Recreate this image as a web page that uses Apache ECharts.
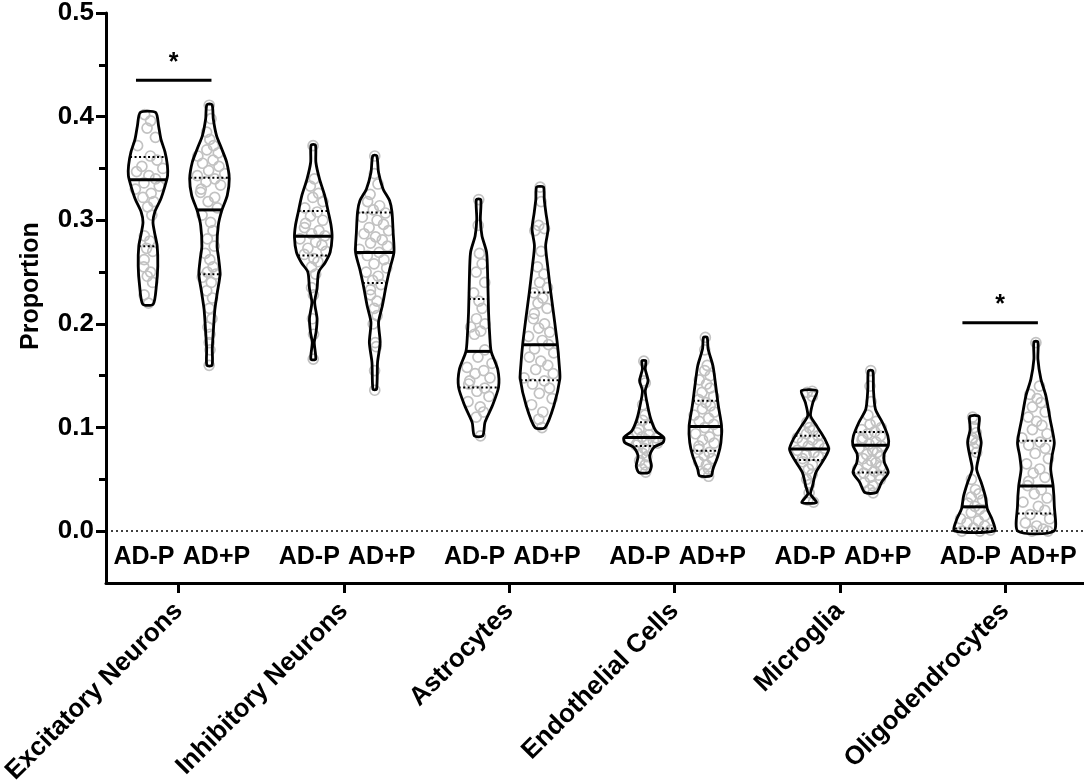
<!DOCTYPE html>
<html>
<head>
<meta charset="utf-8">
<script src="https://cdn.jsdelivr.net/npm/echarts@6/dist/echarts.min.js"></script>
<style>
  html, body { margin: 0; padding: 0; background: #fff; }
  #chart { width: 1084px; height: 783px; }
</style>
</head>
<body>
<div id="chart"></div>
<script>
const cellTypes = ['Excitatory Neurons', 'Inhibitory Neurons', 'Astrocytes', 'Endothelial Cells', 'Microglia', 'Oligodendrocytes']
const conditions = ['AD-P', 'AD+P']
const yTicks = [0, 0.1, 0.2, 0.3, 0.4, 0.5]
const yMinorTicks = [0.05, 0.15, 0.25, 0.35, 0.45]

// violin outlines, top to bottom: [proportion, relative density]
const excAdmShape = [[0.404, 0.38], [0.391, 0.53], [0.378, 0.65], [0.366, 0.85], [0.353, 0.97], [0.343, 0.98], [0.333, 0.85], [0.320, 0.63], [0.308, 0.34], [0.298, 0.25], [0.288, 0.33], [0.275, 0.46], [0.256, 0.49], [0.237, 0.42], [0.219, 0.26]]
const excAdpShape = [[0.4115, 0.13], [0.398, 0.19], [0.382, 0.35], [0.369, 0.61], [0.356, 0.86], [0.340, 0.99], [0.324, 0.89], [0.309, 0.61], [0.295, 0.44], [0.275, 0.38], [0.263, 0.46], [0.248, 0.53], [0.230, 0.39], [0.214, 0.27], [0.192, 0.19], [0.176, 0.14], [0.160, 0.13]]
const inhAdmShape = [[0.3726, 0.11], [0.356, 0.13], [0.340, 0.31], [0.324, 0.57], [0.308, 0.75], [0.295, 0.89], [0.2835, 0.94], [0.269, 0.84], [0.259, 0.59], [0.250, 0.27], [0.234, 0.19], [0.221, 0.07], [0.205, 0.19], [0.192, 0.14], [0.182, 0.05], [0.166, 0.12]]
const inhAdpShape = [[0.3623, 0.10], [0.346, 0.19], [0.330, 0.42], [0.319, 0.74], [0.308, 0.86], [0.288, 0.92], [0.269, 0.96], [0.253, 0.75], [0.237, 0.57], [0.2175, 0.38], [0.2014, 0.19], [0.182, 0.27], [0.163, 0.14], [0.137, 0.09]]
const astAdmShape = [[0.320, 0.11], [0.301, 0.09], [0.285, 0.17], [0.269, 0.40], [0.243, 0.46], [0.211, 0.50], [0.1885, 0.56], [0.1735, 0.63], [0.156, 0.96], [0.139, 1.0], [0.121, 0.69], [0.105, 0.32], [0.092, 0.21]]
const astAdpShape = [[0.332, 0.17], [0.3205, 0.21], [0.3076, 0.29], [0.2915, 0.40], [0.2754, 0.28], [0.256, 0.38], [0.230, 0.54], [0.205, 0.71], [0.180, 0.87], [0.160, 0.96], [0.147, 0.99], [0.121, 0.69], [0.100, 0.25]]
const endAdmShape = [[0.1644, 0.10], [0.1564, 0.07], [0.1451, 0.21], [0.1354, 0.07], [0.121, 0.19], [0.108, 0.35], [0.0968, 0.60], [0.0904, 1.0], [0.0856, 0.96], [0.0808, 0.50], [0.0727, 0.29], [0.063, 0.38], [0.0567, 0.25]]
const endAdpShape = [[0.187, 0.09], [0.1757, 0.14], [0.1596, 0.38], [0.1403, 0.52], [0.121, 0.65], [0.1016, 0.81], [0.0856, 0.78], [0.0727, 0.63], [0.0598, 0.38], [0.0534, 0.29]]
const micAdmShape = [[0.1354, 0.39], [0.1242, 0.19], [0.1113, 0.07], [0.1016, 0.38], [0.0888, 0.79], [0.0792, 0.98], [0.0695, 0.75], [0.0567, 0.34], [0.0437, 0.17], [0.0357, 0.07], [0.0277, 0.37]]
const micAdpShape = [[0.1547, 0.11], [0.1371, 0.14], [0.1178, 0.24], [0.1049, 0.59], [0.092, 0.86], [0.083, 0.89], [0.0743, 0.67], [0.0663, 0.69], [0.0567, 0.88], [0.047, 0.54], [0.0373, 0.29]]
const oliAdmShape = [[0.1107, 0.23], [0.0985, 0.21], [0.0856, 0.34], [0.0727, 0.23], [0.0598, 0.11], [0.047, 0.34], [0.0341, 0.54], [0.0212, 0.65], [0.0116, 0.88], [0.0003, 1.0]]
const oliAdpShape = [[0.1827, 0.10], [0.166, 0.10], [0.1467, 0.25], [0.1306, 0.50], [0.1081, 0.71], [0.0856, 0.92], [0.0727, 0.81], [0.0598, 0.74], [0.0437, 0.86], [0.0244, 0.92], [0.0, 0.90]]

// [median, upper quartile, lower quartile]
const excAdmStats = [0.339, 0.361, 0.275]
const excAdpStats = [0.310, 0.341, 0.248]
const inhAdmStats = [0.2845, 0.309, 0.266]
const inhAdpStats = [0.269, 0.3076, 0.2394]
const astAdmStats = [0.1735, 0.224, 0.1387]
const astAdpStats = [0.180, 0.2304, 0.1457]
const endAdmStats = [0.0904, 0.105, 0.0823]
const endAdpStats = [0.101, 0.1258, 0.0775]
const micAdmStats = [0.0792, 0.092, 0.0688]
const micAdpStats = [0.083, 0.0958, 0.0567]
const oliAdmStats = [0.0235, 0.0753, 0.0026]
const oliAdpStats = [0.0437, 0.0872, 0.0171]

// per-sample proportions
const excAdmPoints = [0.402, 0.396, 0.389, 0.380, 0.372, 0.362, 0.358, 0.352, 0.350, 0.347, 0.343, 0.340, 0.336, 0.333, 0.330, 0.326, 0.322, 0.318, 0.313, 0.305, 0.285, 0.280, 0.273, 0.270, 0.262, 0.255, 0.250, 0.246, 0.240, 0.228, 0.220]
const excAdpPoints = [0.411, 0.398, 0.385, 0.378, 0.372, 0.368, 0.365, 0.362, 0.358, 0.355, 0.352, 0.348, 0.345, 0.343, 0.340, 0.337, 0.334, 0.330, 0.327, 0.322, 0.318, 0.312, 0.305, 0.298, 0.290, 0.282, 0.275, 0.268, 0.262, 0.255, 0.250, 0.248, 0.245, 0.240, 0.232, 0.225, 0.215, 0.205, 0.197, 0.190, 0.182, 0.175, 0.160]
const inhAdmPoints = [0.372, 0.340, 0.333, 0.326, 0.322, 0.318, 0.312, 0.308, 0.304, 0.300, 0.297, 0.293, 0.290, 0.287, 0.285, 0.282, 0.279, 0.276, 0.273, 0.270, 0.267, 0.263, 0.260, 0.255, 0.248, 0.235, 0.228, 0.205, 0.190, 0.166]
const inhAdpPoints = [0.362, 0.345, 0.335, 0.325, 0.318, 0.314, 0.310, 0.307, 0.303, 0.300, 0.296, 0.293, 0.290, 0.287, 0.284, 0.281, 0.278, 0.275, 0.272, 0.269, 0.266, 0.262, 0.258, 0.254, 0.250, 0.246, 0.242, 0.238, 0.233, 0.228, 0.222, 0.215, 0.208, 0.200, 0.182, 0.178, 0.155, 0.136]
const astAdmPoints = [0.320, 0.295, 0.268, 0.258, 0.250, 0.240, 0.230, 0.222, 0.215, 0.205, 0.200, 0.197, 0.193, 0.190, 0.175, 0.168, 0.162, 0.158, 0.155, 0.152, 0.148, 0.145, 0.142, 0.138, 0.135, 0.130, 0.125, 0.120, 0.115, 0.110, 0.092]
const astAdpPoints = [0.332, 0.318, 0.295, 0.292, 0.290, 0.270, 0.255, 0.248, 0.240, 0.235, 0.230, 0.225, 0.220, 0.215, 0.210, 0.205, 0.200, 0.196, 0.192, 0.188, 0.184, 0.180, 0.176, 0.172, 0.168, 0.164, 0.160, 0.156, 0.152, 0.148, 0.145, 0.142, 0.138, 0.133, 0.128, 0.122, 0.115, 0.108, 0.100]
const endAdmPoints = [0.164, 0.145, 0.143, 0.122, 0.112, 0.107, 0.102, 0.098, 0.095, 0.093, 0.091, 0.090, 0.089, 0.088, 0.087, 0.086, 0.085, 0.083, 0.080, 0.078, 0.075, 0.072, 0.068, 0.064, 0.060, 0.057]
const endAdpPoints = [0.187, 0.175, 0.160, 0.155, 0.150, 0.146, 0.142, 0.138, 0.134, 0.130, 0.127, 0.124, 0.121, 0.118, 0.115, 0.112, 0.109, 0.106, 0.103, 0.100, 0.097, 0.094, 0.091, 0.088, 0.085, 0.082, 0.079, 0.076, 0.073, 0.070, 0.067, 0.064, 0.060, 0.056, 0.053]
const micAdmPoints = [0.135, 0.134, 0.130, 0.105, 0.100, 0.097, 0.094, 0.092, 0.090, 0.088, 0.086, 0.084, 0.082, 0.080, 0.078, 0.076, 0.074, 0.072, 0.070, 0.067, 0.064, 0.060, 0.055, 0.050, 0.045, 0.037, 0.030, 0.028]
const micAdpPoints = [0.155, 0.140, 0.125, 0.112, 0.106, 0.103, 0.100, 0.098, 0.096, 0.094, 0.092, 0.090, 0.088, 0.086, 0.084, 0.082, 0.080, 0.078, 0.076, 0.074, 0.072, 0.070, 0.068, 0.066, 0.064, 0.062, 0.060, 0.058, 0.056, 0.054, 0.052, 0.050, 0.047, 0.044, 0.040, 0.037]
const oliAdmPoints = [0.110, 0.108, 0.100, 0.095, 0.090, 0.088, 0.085, 0.080, 0.076, 0.050, 0.040, 0.036, 0.033, 0.030, 0.027, 0.024, 0.021, 0.018, 0.015, 0.012, 0.010, 0.008, 0.005, 0.003, 0.001, 0.000, 0.000]
const oliAdpPoints = [0.182, 0.140, 0.132, 0.128, 0.124, 0.120, 0.115, 0.110, 0.106, 0.102, 0.098, 0.094, 0.090, 0.086, 0.083, 0.080, 0.075, 0.070, 0.065, 0.060, 0.056, 0.052, 0.048, 0.044, 0.040, 0.036, 0.032, 0.028, 0.024, 0.020, 0.016, 0.012, 0.008, 0.005, 0.002, 0.000, 0.000]

// horizontal spread of the dots inside a violin (fraction of local half width)
const jitter = [-0.55, 0.35, -0.1, 0.7, -0.8, 0.15, 0.55, -0.35, 0.85, -0.65, 0.05, 0.45, -0.25, 0.75, -0.9, 0.25, -0.45, 0.6, -0.05, 0.9, -0.7, 0.3, -0.2, 0.65, -0.5]

// significant pairs: [cell type, bar height]
const significance = [[0, 0.435], [5, 0.201]]

const violins = [
  { cell: 0, cond: 0, shape: excAdmShape, stats: excAdmStats, points: excAdmPoints },
  { cell: 0, cond: 1, shape: excAdpShape, stats: excAdpStats, points: excAdpPoints },
  { cell: 1, cond: 0, shape: inhAdmShape, stats: inhAdmStats, points: inhAdmPoints },
  { cell: 1, cond: 1, shape: inhAdpShape, stats: inhAdpStats, points: inhAdpPoints },
  { cell: 2, cond: 0, shape: astAdmShape, stats: astAdmStats, points: astAdmPoints },
  { cell: 2, cond: 1, shape: astAdpShape, stats: astAdpStats, points: astAdpPoints },
  { cell: 3, cond: 0, shape: endAdmShape, stats: endAdmStats, points: endAdmPoints },
  { cell: 3, cond: 1, shape: endAdpShape, stats: endAdpStats, points: endAdpPoints },
  { cell: 4, cond: 0, shape: micAdmShape, stats: micAdmStats, points: micAdmPoints },
  { cell: 4, cond: 1, shape: micAdpShape, stats: micAdpStats, points: micAdpPoints },
  { cell: 5, cond: 0, shape: oliAdmShape, stats: oliAdmStats, points: oliAdmPoints },
  { cell: 5, cond: 1, shape: oliAdpShape, stats: oliAdpStats, points: oliAdpPoints },
]

const FONT = '"Liberation Sans", Arial, sans-serif'
const PAIR_OFFSET = 0.186   // violin distance from group centre, in group units
const MAX_HW = 20            // px half width of a density of 1
const xPos = (cell, cond) => cell + (cond ? PAIR_OFFSET : -PAIR_OFFSET)

const widthAt = (shape, val) => {
  if (val >= shape[0][0]) return shape[0][1]
  for (let i = 1; i < shape.length; i += 1) {
    const [v0, w0] = shape[i - 1]
    const [v1, w1] = shape[i]
    if (val >= v1) return w0 + (w1 - w0) * (v0 - val) / (v0 - v1)
  }
  return shape[shape.length - 1][1]
}

const myChart = echarts.init(document.getElementById('chart'))

const violinData = violins.map((v) => [xPos(v.cell, v.cond), v.stats[0]])
const pointData = []
violins.forEach((v, i) => {
  v.points.forEach((p, j) => {
    pointData.push([xPos(v.cell, v.cond), p, i, jitter[(j + i * 7) % jitter.length]])
  })
})
const labelData = violins.map((v) => [xPos(v.cell, v.cond), -0.025, v.cond])

const renderViolin = (params, api) => {
  const v = violins[params.dataIndex]
  const cx = api.coord([api.value(0), 0])[0]
  const yPx = (val) => api.coord([0, val])[1]
  const right = v.shape.map(([val, w]) => [cx + w * MAX_HW, yPx(val)])
  const left = v.shape.slice().reverse().map(([val, w]) => [cx - w * MAX_HW, yPx(val)])
  const children = [{
    type: 'polygon',
    shape: { points: right.concat(left), smooth: 0.25 },
    style: { fill: 'none', stroke: '#000', lineWidth: 2.8 },
  }]
  v.stats.forEach((s, i) => {
    const hw = widthAt(v.shape, s) * MAX_HW
    children.push({
      type: 'line',
      shape: { x1: cx - hw, y1: yPx(s), x2: cx + hw, y2: yPx(s) },
      style: i === 0
        ? { stroke: '#000', lineWidth: 3 }
        : { stroke: '#000', lineWidth: 2, lineDash: [2, 2.5] },
    })
  })
  return { type: 'group', children }
}

const renderPoint = (params, api) => {
  const v = violins[api.value(2)]
  const val = api.value(1)
  const pt = api.coord([api.value(0), val])
  const hw = Math.max(widthAt(v.shape, val) * MAX_HW - 2, 0)
  return {
    type: 'circle',
    shape: { cx: pt[0] + api.value(3) * hw, cy: pt[1], r: 5 },
    style: { fill: 'none', stroke: '#c2c2c2', lineWidth: 1.7 },
  }
}

const renderLabel = (params, api) => {
  const pt = api.coord([api.value(0), api.value(1)])
  const shift = api.value(2) ? 7 : -4
  return {
    type: 'text',
    x: pt[0] + shift,
    y: pt[1],
    style: {
      text: conditions[api.value(2)],
      font: `bold 25px ${FONT}`,
      fill: '#000',
      align: 'center',
      verticalAlign: 'middle',
    },
  }
}

const renderSig = (params, api) => {
  const cell = api.value(0)
  const y = api.coord([0, api.value(1)])[1]
  const x1 = api.coord([xPos(cell, 0), 0])[0] - 12
  const x2 = api.coord([xPos(cell, 1), 0])[0] + 2
  return {
    type: 'group',
    children: [{
      type: 'line',
      shape: { x1, y1: y, x2, y2: y },
      style: { stroke: '#000', lineWidth: 3 },
    }, {
      type: 'text',
      x: (x1 + x2) / 2,
      y: y - 5,
      style: {
        text: '*',
        font: `bold 25px ${FONT}`,
        fill: '#000',
        align: 'center',
        verticalAlign: 'bottom',
      },
    }],
  }
}

const option = {
  animation: false,
  backgroundColor: '#fff',
  grid: {
    left: 106, right: 0, top: 13, bottom: 200, outerBoundsMode: 'none',
  },
  graphic: [{
    type: 'text',
    x: 31,
    y: 286,
    rotation: Math.PI / 2,
    style: {
      text: 'Proportion',
      font: `bold 25px ${FONT}`,
      fill: '#000',
      align: 'center',
      verticalAlign: 'middle',
    },
  }],
  xAxis: {
    type: 'value',
    min: -0.44,
    max: 5.477,
    splitLine: { show: false },
    axisLine: { onZero: false, lineStyle: { color: '#000', width: 3 } },
    axisTick: {
      customValues: cellTypes.map((c, i) => i), length: 10, lineStyle: { color: '#000', width: 3 },
    },
    axisLabel: {
      customValues: cellTypes.map((c, i) => i),
      formatter: (v) => cellTypes[Math.round(v)],
      rotate: 45,
      margin: 24,
      color: '#000',
      fontSize: 26,
      fontWeight: 'bold',
      fontFamily: FONT,
    },
  },
  yAxis: [{
    type: 'value',
    min: -0.05,
    max: 0.5,
    splitLine: { show: false },
    axisLine: { onZero: false, lineStyle: { color: '#000', width: 3 } },
    axisTick: { customValues: yTicks, length: 10, lineStyle: { color: '#000', width: 3 } },
    axisLabel: {
      customValues: yTicks,
      formatter: (v) => v.toFixed(1),
      margin: 12,
      color: '#000',
      fontSize: 26,
      fontWeight: 'bold',
      fontFamily: FONT,
    },
  }, {
    type: 'value',
    position: 'left',
    min: -0.05,
    max: 0.5,
    splitLine: { show: false },
    axisLine: { show: false, onZero: false },
    axisTick: { customValues: yMinorTicks, length: 7, lineStyle: { color: '#000', width: 3 } },
    axisLabel: { show: false },
  }],
  series: [{
    type: 'custom',
    name: 'points',
    renderItem: renderPoint,
    data: pointData,
    z: 1,
    silent: true,
  }, {
    type: 'custom',
    name: 'violins',
    renderItem: renderViolin,
    data: violinData,
    z: 2,
    silent: true,
    markLine: {
      silent: true,
      symbol: 'none',
      label: { show: false },
      lineStyle: { color: '#000', width: 1.5, type: [2, 3] },
      data: [{ yAxis: 0 }],
    },
  }, {
    type: 'custom',
    name: 'groups',
    renderItem: renderLabel,
    data: labelData,
    z: 3,
    silent: true,
  }, {
    type: 'custom',
    name: 'significance',
    renderItem: renderSig,
    data: significance,
    z: 3,
    silent: true,
  }],
}
myChart.setOption(option)
</script>
</body>
</html>
